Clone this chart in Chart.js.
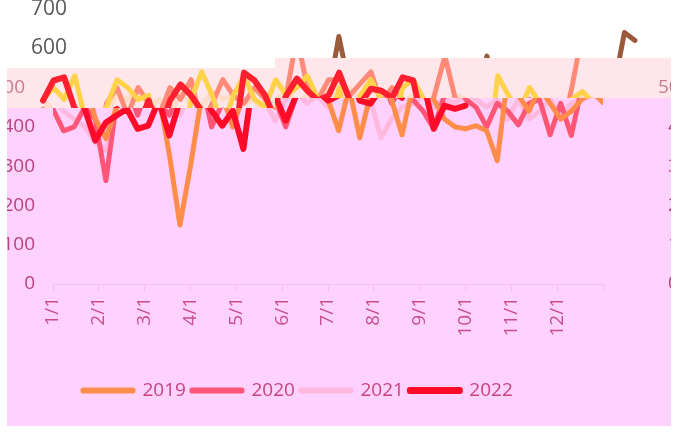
<!DOCTYPE html>
<html>
<head>
<meta charset="utf-8">
<script src="https://cdn.jsdelivr.net/npm/chart.js@4.4.1/dist/chart.umd.min.js"></script>
<style>
    html, body { margin: 0; padding: 0; background: #fff; }
    #wrap { position: absolute; left: 7px; top: 0; width: 664px; height: 426px; overflow: hidden; }
    #wrap canvas { display: block; }
</style>
</head>
<body>
<div id="wrap"><canvas id="myChart" width="700" height="426"></canvas></div>
<script>
const years = ["2019", "2020", "2021", "2022"];
const monthLabels = ["1/1", "2/1", "3/1", "4/1", "5/1", "6/1", "7/1", "8/1", "9/1", "10/1", "11/1", "12/1"];
const weeksPerYear = 52;

// weekly values
const sales2019 = [470, 500, 470, 530, 420, 370, 450, 520, 500, 470, 480, 330, 150, 300, 470, 540, 480, 400, 480, 530,
    470, 450, 520, 480, 500, 530, 470, 390, 500, 372, 480, 520, 470, 380, 500, 520, 470, 420, 400, 395,
    403, 390, 314, 530, 480, 440, 500, 460, 420, 440, 470, 490, 462];
const sales2020 = [445, 390, 400, 450, 420, 263, 460, 500, 430, 500, 460, 430, 500, 470, 520, 400, 460, 520, 480, 460,
    500, 470, 400, 480, 630, 500, 470, 520, 520, 480, 510, 540, 460, 500, 470, 440, 395, 480, 580, 470,
    450, 400, 460, 440, 405, 460, 470, 380, 460, 378, 500, 640, 620];
const sales2021 = [470, 440, 420, 400, 360, 340, 440, 480, 470, 500, 450, 470, 430, 490, 460, 450, 490, 470, 480, 460,
    470, 415, 470, 490, 460, 480, 450, 490, 470, 500, 470, 372, 420, 450, 460, 480, 450, 470, 460, 480,
    470, 450, 470, 420, 470, 420, 440, 470, 430, 460, 470, 480, 470];
const sales2022 = [467, 518, 526, 446, 365, 411, 429, 446, 395, 403, 467, 378, 467, 508, 480, 441, 403, 441, 344, 538,
    518, 480, 416, 480, 523, 492, 467, 480, 538, 467, 459, 497, 492, 474, 526, 518, 395, 454, 446, 454];

const lineColors = ["#ff8c48", "#ff5577", "#ffb8de", "#ff0a28"];
const bandColors = ["#ffd24a", "#ff8a78", "#ffdcc8", "#ff1f2f"];
const topColors = ["#9c5a3c", "#9c5a3c", "#d8c0a8", "#9c5a3c"];
const seriesData = [sales2019, sales2020, sales2021, sales2022];

function toPoints(values) {
    return values.map((v, i) => ({ x: i * 12 / weeksPerYear, y: v }));
}

// the picture is torn: a white strip on top and a pale strip, both slid sideways
const zones = [
    { left: 0, right: 268, top: 0, bottom: 68, bg: "#ffffff", shift: 32, colors: topColors, font: "21px 'Open Sans'", text: "#595959" },
    { left: 268, right: 700, top: 0, bottom: 58, bg: "#ffffff", shift: 32, colors: topColors, font: "21px 'Open Sans'", text: "#595959" },
    { left: 0, right: 268, top: 68, bottom: 108, bg: "#ffe6ea", shift: -10, colors: bandColors, font: "19px 'Open Sans'", text: "#c97a8e" },
    { left: 268, right: 700, top: 58, bottom: 98, bg: "#ffe6ea", shift: -10, colors: bandColors, font: "19px 'Open Sans'", text: "#c97a8e" }
];

function drawZoneLabels(chart, ctx, z) {
    ctx.font = z.font;
    ctx.fillStyle = z.text;
    ctx.textBaseline = "middle";
    ["y", "y2"].forEach(id => {
        const s = chart.scales[id];
        s.ticks.forEach(t => {
            if (t.value < 500) return;
            ctx.textAlign = id === "y" ? "right" : "left";
            const x = id === "y" ? s.right - 18 : s.left + 65;
            ctx.fillText(String(t.value), x, s.getPixelForValue(t.value));
        });
    });
}

const tornPlugin = {
    id: "torn",
    beforeDraw(chart) {
        const ctx = chart.ctx;
        ctx.save();
        ctx.fillStyle = "#ffd1ff";
        ctx.fillRect(0, 0, chart.width, chart.height);
        ctx.restore();
    },
    afterLayout(chart) {
        chart.legend.left = 70;
    },
    afterDatasetsDraw(chart) {
        const ctx = chart.ctx;
        const metas = chart.getSortedVisibleDatasetMetas();
        zones.forEach(z => {
            ctx.save();
            ctx.beginPath();
            ctx.rect(z.left, z.top, z.right - z.left, z.bottom - z.top);
            ctx.clip();
            ctx.fillStyle = z.bg;
            ctx.fillRect(z.left, z.top, z.right - z.left, z.bottom - z.top);
            ctx.translate(z.shift, 0);
            for (let i = metas.length - 1; i >= 0; i--) {
                const line = metas[i].dataset;
                const old = line.options.borderColor;
                line.options.borderColor = z.colors[metas[i].index];
                line.draw(ctx, chart.chartArea);
                line.options.borderColor = old;
            }
            drawZoneLabels(chart, ctx, z);
            ctx.restore();
        });
    }
};

const tickFont = { family: "'Open Sans'", size: 19 };
const hideHigh = c => c.tick.value >= 500 ? "rgba(0,0,0,0)" : "#b8447a";

const ctx = document.getElementById("myChart").getContext("2d");
new Chart(ctx, {
    type: "line",
    data: {
        datasets: years.map((year, i) => ({
            label: year,
            data: toPoints(seriesData[i]),
            borderColor: lineColors[i],
            backgroundColor: lineColors[i],
            borderWidth: i === 3 ? 6 : 5,
            borderJoinStyle: "round",
            borderCapStyle: "round",
            pointRadius: 0,
            tension: 0,
            order: [1, 2, 3, 0][i]
        }))
    },
    options: {
        responsive: false,
        animation: false,
        layout: { padding: { top: 0, left: 0, right: 0, bottom: 16 } },
        plugins: {
            tooltip: { enabled: false },
            legend: {
                position: "bottom",
                align: "start",
                labels: {
                    boxWidth: 50,
                    boxHeight: 1,
                    padding: 6,
                    color: "#c8457a",
                    font: tickFont,
                    sort: (a, b) => a.datasetIndex - b.datasetIndex
                }
            }
        },
        scales: {
            x: {
                type: "linear",
                min: 0,
                max: 12,
                ticks: {
                    stepSize: 1,
                    autoSkip: false,
                    maxRotation: 90,
                    minRotation: 90,
                    padding: 5,
                    color: "#c8508a",
                    font: tickFont,
                    callback: v => monthLabels[v] || ""
                },
                grid: { drawOnChartArea: false, tickLength: 8, color: "#f6c0ee" },
                border: { color: "#f6c0ee" },
                afterFit: s => { s.height = 91; }
            },
            y: {
                min: 0,
                max: 700,
                ticks: { stepSize: 100, padding: 18, font: tickFont, color: hideHigh, z: 1 },
                grid: { display: false, drawTicks: false },
                border: { display: false },
                afterFit: s => { s.width = 46; s.paddingTop = 9; s.paddingBottom = 0; }
            },
            y2: {
                position: "right",
                min: 0,
                max: 700,
                ticks: { stepSize: 100, padding: 65, font: tickFont, color: hideHigh, z: 1 },
                grid: { display: false, drawTicks: false },
                border: { display: false },
                afterFit: s => { s.width = 104; s.paddingTop = 9; s.paddingBottom = 0; }
            }
        }
    },
    plugins: [tornPlugin]
});
</script>
</body>
</html>
